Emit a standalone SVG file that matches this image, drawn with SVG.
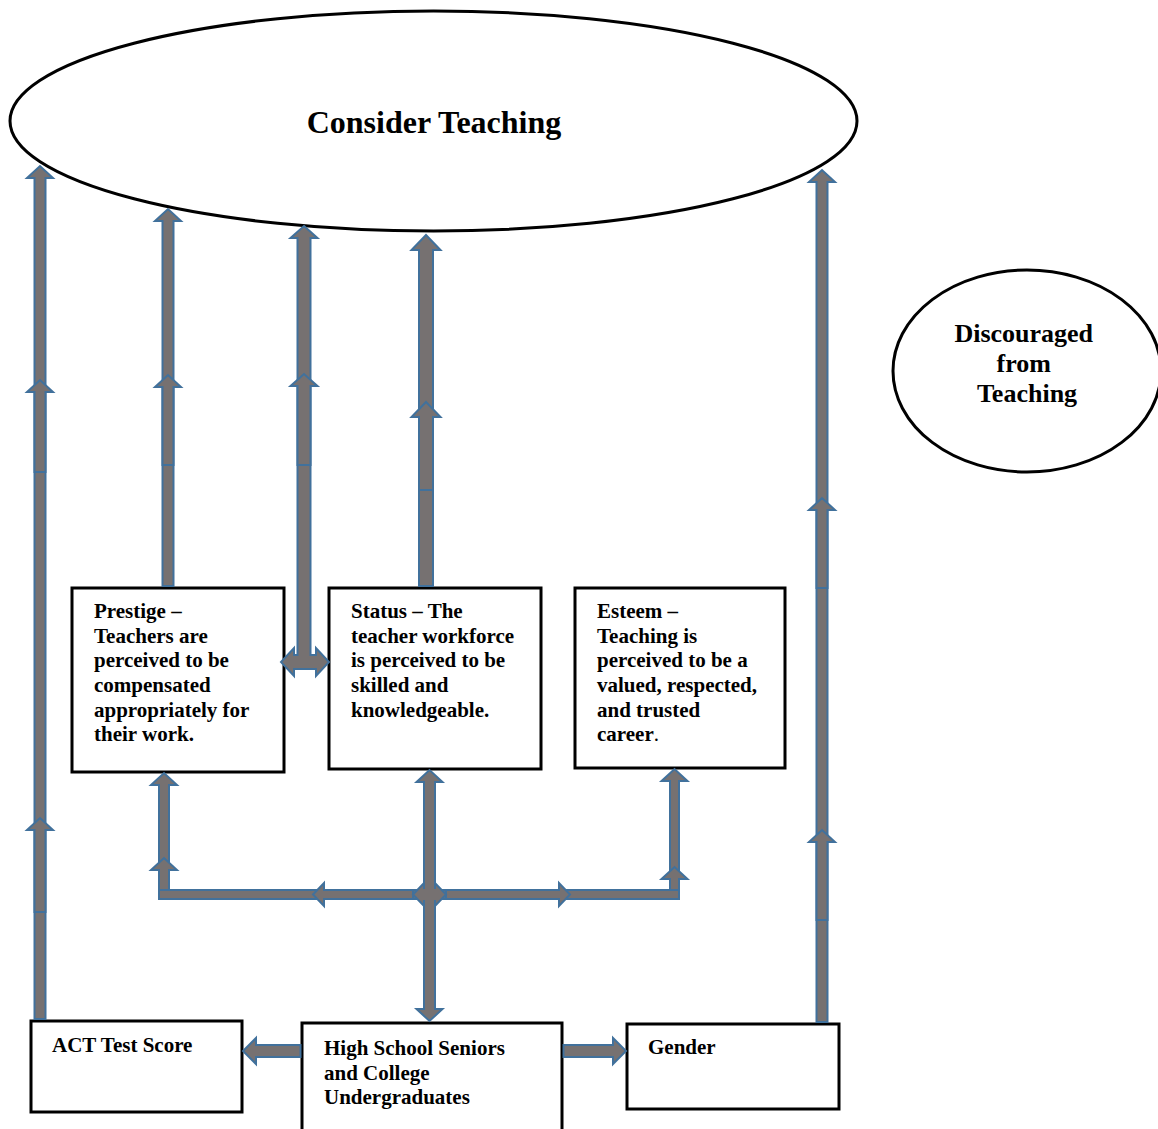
<svg xmlns="http://www.w3.org/2000/svg" width="1158" height="1129" viewBox="0 0 1158 1129">
<style>
.bg{fill:#ffffff}
.shape{fill:#ffffff;stroke:#000000;stroke-width:3}
.t{font-family:"Liberation Serif","Times New Roman",serif;font-weight:bold;fill:#000000}
.box{font-size:21px}
.arr{fill:#767171;stroke:#41719C;stroke-width:2;stroke-linejoin:miter}
.patch{fill:#767171;stroke:none}
</style>
<rect class="bg" x="0" y="0" width="1158" height="1129"/>

<g id="consider-teaching">
<ellipse class="shape" cx="433.5" cy="121" rx="423.5" ry="110"/>
<text class="t" x="434" y="133" font-size="32" text-anchor="middle">Consider Teaching</text>
</g>

<g id="discouraged">
<ellipse class="shape" cx="1027" cy="371" rx="134" ry="101"/>
<text class="t" font-size="26" text-anchor="middle">
<tspan x="1027" y="342">Discouraged</tspan>
<tspan x="1027" y="372">from</tspan>
<tspan x="1027" y="402">Teaching</tspan>
</text>
</g>

<g id="prestige">
<rect class="shape" x="72" y="588" width="212" height="184"/>
<text class="t box">
<tspan x="94" y="618">Prestige –</tspan>
<tspan x="94" y="643">Teachers are</tspan>
<tspan x="94" y="667">perceived to be</tspan>
<tspan x="94" y="692">compensated</tspan>
<tspan x="94" y="717">appropriately for</tspan>
<tspan x="94" y="741">their work.</tspan>
</text>
</g>

<g id="status">
<rect class="shape" x="329" y="588" width="212" height="181"/>
<text class="t box">
<tspan x="351" y="618">Status – The</tspan>
<tspan x="351" y="643">teacher workforce</tspan>
<tspan x="351" y="667">is perceived to be</tspan>
<tspan x="351" y="692">skilled and</tspan>
<tspan x="351" y="717">knowledgeable.</tspan>
</text>
</g>

<g id="esteem">
<rect class="shape" x="575" y="588" width="210" height="180"/>
<text class="t box">
<tspan x="597" y="618">Esteem –</tspan>
<tspan x="597" y="643">Teaching is</tspan>
<tspan x="597" y="667">perceived to be a</tspan>
<tspan x="597" y="692">valued, respected,</tspan>
<tspan x="597" y="717">and trusted</tspan>
<tspan x="597" y="741">career<tspan font-weight="normal">.</tspan></tspan>
</text>
</g>

<g id="act">
<rect class="shape" x="31" y="1021" width="211" height="91"/>
<text class="t box" x="52" y="1052">ACT Test Score</text>
</g>

<g id="students">
<rect class="shape" x="302" y="1023" width="260" height="120"/>
<text class="t box">
<tspan x="324" y="1055">High School Seniors</tspan>
<tspan x="324" y="1080">and College</tspan>
<tspan x="324" y="1104">Undergraduates</tspan>
</text>
</g>

<g id="gender">
<rect class="shape" x="627" y="1024" width="212" height="85"/>
<text class="t box" x="648" y="1054">Gender</text>
</g>

<g id="connectors">
<!-- Column A: ACT to Consider Teaching -->
<polygon class="arr" points="34.5,1019 34.5,178 27,178 40,166 53,178 45.5,178 45.5,1019"/>
<polygon class="arr" points="34.5,472 34.5,392 27,392 40,380 53,392 45.5,392 45.5,472"/>
<polygon class="arr" points="34.5,912 34.5,830 27,830 40,818 53,830 45.5,830 45.5,912"/>

<!-- Column B: Prestige to Consider Teaching -->
<polygon class="arr" points="162.5,586 162.5,221 155,221 168,209 181,221 173.5,221 173.5,586"/>
<polygon class="arr" points="162.5,465 162.5,387 155,387 168,375 181,387 173.5,387 173.5,465"/>

<!-- Column C: Prestige/Status double arrow to Consider Teaching -->
<polygon class="arr" points="304,226 317.5,238 310.5,238 310.5,655 316,655 316,648 329,662 316,676 316,669 294,669 294,676 281,662 294,648 294,655 297.5,655 297.5,238 290.5,238"/>
<polygon class="arr" points="297.5,465 297.5,386 290.5,386 304,374 317.5,386 310.5,386 310.5,465"/>

<!-- Column D: Status to Consider Teaching -->
<polygon class="arr" points="419,586 419,250 411.5,250 426,235 440.5,250 433,250 433,586"/>
<polygon class="arr" points="419,490 419,417 411.5,417 426,402 440.5,417 433,417 433,490"/>

<!-- Column E: Gender to Consider Teaching -->
<polygon class="arr" points="816.5,1022 816.5,182 809,182 822,170 835,182 827.5,182 827.5,1022"/>
<polygon class="arr" points="816.5,588 816.5,510 809,510 822,498 835,510 827.5,510 827.5,588"/>
<polygon class="arr" points="816.5,920 816.5,842 809,842 822,830 835,842 827.5,842 827.5,920"/>

<!-- Branches to Prestige and Esteem -->
<polygon class="arr" points="427,890 169,890 169,785 177,785 164,773 151,785 159,785 159,899 427,899"/>
<polygon class="arr" points="431,890 670,890 670,781 661.5,781 674.5,769 687.5,781 679,781 679,899 431,899"/>
<polygon class="arr" points="159,890 159,870 151,870 164,858 177,870 169,870 169,890"/>
<polygon class="arr" points="670,890 670,879 661.5,879 674.5,867 687.5,879 679,879 679,890"/>
<polygon class="arr" points="413,890 324,890 324,883 313,894.5 324,906 324,899 413,899"/>
<polygon class="arr" points="446,890 559,890 559,883 570,894.5 559,906 559,899 446,899"/>

<!-- Centre: Students to Status (double) -->
<polygon class="arr" points="424,782 416.5,782 429.5,770 442.5,782 435,782 435,1009 442.5,1009 429.5,1021 416.5,1009 424,1009"/>
<polygon class="arr" points="435,890 424,890 424,883 413,894.5 424,906 424,899 435,899"/>
<polygon class="arr" points="424,890 435,890 435,883 446,894.5 435,906 435,899 424,899"/>
<rect class="patch" x="423" y="889" width="13" height="11"/>

<!-- Students to ACT and Gender -->
<polygon class="arr" points="300.5,1045 256,1045 256,1038 243,1051 256,1064 256,1057 300.5,1057"/>
<polygon class="arr" points="563.5,1045 613,1045 613,1038 626,1051 613,1064 613,1057 563.5,1057"/>
</g>
</svg>
